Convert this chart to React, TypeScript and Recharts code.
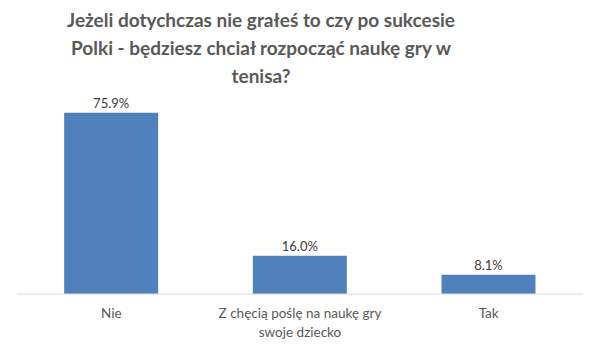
import { BarChart, Bar, XAxis, YAxis, LabelList } from 'recharts';

const categories = ['Nie', 'Z chęcią poślę na naukę gry\nswoje dziecko', 'Tak'];
const values = [75.9, 16.0, 8.1];
const titleLines = [
  'Jeżeli dotychczas nie grałeś to czy po sukcesie',
  'Polki - będziesz chciał rozpocząć naukę gry w',
  'tenisa?',
];

const FONT = 'Lato, "Open Sans", sans-serif';

const data = categories.map((name, i) => ({ name, value: values[i] }));

function CategoryTick({ x, y, payload }: any) {
  const lines = String(payload.value).split('\n');
  return (
    <text x={x} y={y} textAnchor="middle" fill="#595959" fontSize={13.5} fontFamily={FONT}>
      {lines.map((line, i) => (
        <tspan key={i} x={x} dy={i === 0 ? 16 : 19}>
          {line}
        </tspan>
      ))}
    </text>
  );
}

export default function App() {
  return (
    <div style={{ position: 'absolute', left: 0, top: 0, width: 600, height: 356, background: '#fff' }}>
      <div
        style={{
          position: 'absolute',
          left: 0,
          top: 6,
          width: 522,
          textAlign: 'center',
          fontFamily: FONT,
          fontWeight: 700,
          fontSize: 19,
          lineHeight: '28px',
          color: '#595959',
        }}
      >
        {titleLines.map((l, i) => (
          <div key={i}>{l}</div>
        ))}
      </div>
      <BarChart
        width={600}
        height={356}
        data={data}
        margin={{ top: 103, right: 17, bottom: 12, left: 17 }}
        barCategoryGap="25%"
      >
        <XAxis
          dataKey="name"
          axisLine={{ stroke: '#d9d9d9' }}
          tickLine={false}
          height={50}
          interval={0}
          tick={<CategoryTick />}
        />
        <YAxis hide domain={[0, 80]} />
        <Bar dataKey="value" fill="#4f81bd" isAnimationActive={false}>
          <LabelList
            dataKey="value"
            position="top"
            offset={5}
            formatter={(v: any) => `${Number(v).toFixed(1)}%`}
            fill="#404040"
            fontSize={13}
            fontFamily={FONT}
          />
        </Bar>
      </BarChart>
    </div>
  );
}
